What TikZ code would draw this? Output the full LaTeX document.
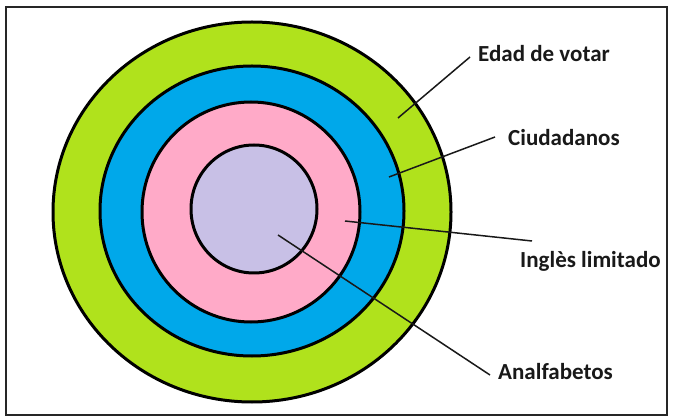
\documentclass[tikz,border=0pt]{standalone}
\usepackage{fontspec}
\setmainfont{Carlito}
\definecolor{ringgreen}{RGB}{176,226,28}
\definecolor{ringblue}{RGB}{0,168,234}
\definecolor{ringpink}{RGB}{255,170,200}
\definecolor{ringlilac}{RGB}{200,192,230}
\begin{document}
\begin{tikzpicture}[x=1pt,y=-1pt,
  ring/.style={draw=black,line width=3pt},
  lbl/.style={font=\fontsize{23}{26}\selectfont\bfseries,inner sep=0pt,anchor=base west,text=black!90},
  leader/.style={draw=black!90,line width=1.5pt}]
\useasboundingbox (0,0) rectangle (674,419);
\fill[white] (0,0) rectangle (674,419);
\draw[line width=2.5pt,black!85] (6,7) rectangle (667,415);
% rings
\filldraw[ring,fill=ringgreen] (252,212) ellipse [x radius=199,y radius=190];
\filldraw[ring,fill=ringblue] (252,211) ellipse [x radius=152,y radius=145];
\filldraw[ring,fill=ringpink] (251,212) ellipse [x radius=109,y radius=110];
\filldraw[ring,fill=ringlilac] (254,209) ellipse [x radius=63,y radius=64];
% labels
\node[lbl] (edad) at (478,62) {Edad de votar};
\node[lbl] (ciud) at (508,146) {Ciudadanos};
\node[lbl] (ingl) at (520,268) {Inglès limitado};
\node[lbl] (analf) at (498,379) {Analfabetos};
% leader points
\coordinate (edadIn) at (398,118);
\coordinate (edadOut) at (470,57);
\coordinate (ciudIn) at (389,177);
\coordinate (ciudOut) at (495,137);
\coordinate (inglIn) at (345,221);
\coordinate (inglOut) at (532,241);
\coordinate (analfIn) at (278,235);
\coordinate (analfOut) at (490,375);
\draw[leader] (edadIn) -- (edadOut);
\draw[leader] (ciudIn) -- (ciudOut);
\draw[leader] (inglIn) -- (inglOut);
\draw[leader] (analfIn) -- (analfOut);
\end{tikzpicture}
\end{document}
